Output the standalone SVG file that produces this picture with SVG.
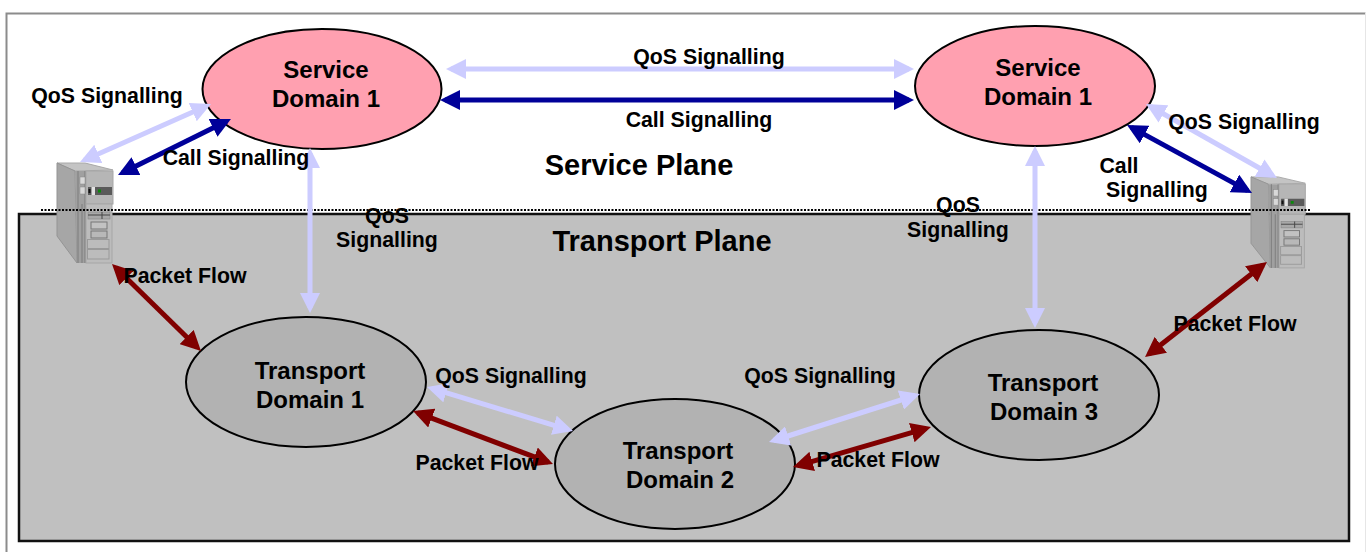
<svg xmlns="http://www.w3.org/2000/svg" width="1366" height="552" viewBox="0 0 1366 552">
<style>
text{font-family:"Liberation Sans",Arial,sans-serif;font-weight:bold;fill:#000;font-size:21.300px;text-anchor:middle}
.pl{font-size:29px}
.nl{font-size:24px}
.n{stroke:#000;stroke-width:2}
.s{fill:#ffa0b0}
.t{fill:#b2b2b2}
.q,.c,.p{fill:none;stroke-width:5}
.q{stroke:#ccccff;marker-start:url(#mq);marker-end:url(#mq)}
.c{stroke:#000099;marker-start:url(#mc);marker-end:url(#mc)}
.p{stroke:#800000;marker-start:url(#mp);marker-end:url(#mp)}
</style>
<defs>
<marker id="mq" markerUnits="userSpaceOnUse" markerWidth="20" markerHeight="20" viewBox="0 0 20 20" refX="15" refY="10" orient="auto-start-reverse"><path d="M0 0L20 10L0 20Z" fill="#ccccff"/></marker>
<marker id="mc" markerUnits="userSpaceOnUse" markerWidth="20" markerHeight="20" viewBox="0 0 20 20" refX="15" refY="10" orient="auto-start-reverse"><path d="M0 0L20 10L0 20Z" fill="#000099"/></marker>
<marker id="mp" markerUnits="userSpaceOnUse" markerWidth="20" markerHeight="20" viewBox="0 0 20 20" refX="15" refY="10" orient="auto-start-reverse"><path d="M0 0L20 10L0 20Z" fill="#800000"/></marker>
<g id="srv">
<path d="M0 1L28 1L56 8L18 9Z" fill="#c4c4c4" stroke="#a8a8a8"/>
<path d="M0 1L18 9L20 101L0 74Z" fill="#a6a6a6" stroke="#949494"/>
<path d="M18 9H29V101H20Z" fill="#a0a0a0"/>
<path d="M21 9V101M25 42V101M28 9V101" stroke="#7c7c7c" fill="none"/>
<rect x="29" y="9" width="27" height="33" fill="#b6b6b6" stroke="#a6a6a6"/>
<rect x="29" y="42" width="26" height="59" fill="#bcbcbc" stroke="#a6a6a6"/>
<rect x="23" y="15" width="5" height="7" fill="#d8d8d8" stroke="#888" stroke-width=".5"/>
<rect x="23" y="25" width="5" height="7" fill="#d8d8d8" stroke="#888" stroke-width=".5"/>
<rect x="31" y="25" width="24" height="8" fill="#5a5a5a"/>
<rect x="31.500" y="27" width="2" height="4" fill="#111"/>
<rect x="34.500" y="25" width="3.500" height="8" fill="#e2e2e2"/>
<rect x="41" y="27.500" width="3" height="3" fill="#0a8a0a"/>
<rect x="31" y="50" width="22" height="7" fill="#a8a8a8" stroke="#8a8a8a" stroke-width=".7"/>
<path d="M31 53H53M45 50V57" stroke="#444" fill="none"/>
<rect x="34" y="60" width="16" height="7" fill="#c2c2c2" stroke="#777"/>
<rect x="34" y="69" width="16" height="7" fill="#b8b8b8" stroke="#777"/>
<rect x="30.500" y="77.500" width="21.500" height="9" fill="#bcbcbc" stroke="#9a9a9a"/>
<rect x="30.500" y="87.500" width="21.500" height="9.500" fill="#bcbcbc" stroke="#9a9a9a"/>
</g>
</defs>
<path id="frame" d="M6.500 552V13.500H1365.500" fill="none" stroke="#8c8c8c" stroke-width="2"/>
<path id="frame-right" d="M1365.500 13V552" stroke="#e6e6e6" stroke-width="1" fill="none"/>
<rect id="transport-plane" x="19" y="214" width="1330" height="327" fill="#c0c0c0" stroke="#111" stroke-width="2.500"/>
<g id="server-left"><use href="#srv" transform="translate(57 162)"/></g>
<g id="server-right"><use href="#srv" transform="translate(1251 176) scale(.97 .91)"/></g>
<path id="plane-divider" d="M41 210H1310" stroke="#000" stroke-width="2" stroke-dasharray="2 1.500" fill="none"/>
<g id="service-domain-a"><ellipse class="n s" cx="322" cy="89" rx="119.500" ry="60"/><text class="nl" x="326" y="78">Service</text><text class="nl" x="326" y="107">Domain 1</text></g>
<g id="service-domain-b"><ellipse class="n s" cx="1035" cy="86" rx="120" ry="60"/><text class="nl" x="1038" y="76">Service</text><text class="nl" x="1038" y="105">Domain 1</text></g>
<g id="transport-domain-1"><ellipse class="n t" cx="306" cy="382" rx="120" ry="65"/><text class="nl" x="310" y="379">Transport</text><text class="nl" x="310" y="408">Domain 1</text></g>
<g id="transport-domain-2"><ellipse class="n t" cx="675" cy="464" rx="120" ry="65"/><text class="nl" x="678" y="459">Transport</text><text class="nl" x="680" y="488">Domain 2</text></g>
<g id="transport-domain-3"><ellipse class="n t" cx="1039" cy="395" rx="120" ry="65"/><text class="nl" x="1043" y="391">Transport</text><text class="nl" x="1044" y="420">Domain 3</text></g>
<g id="connectors">
<path class="q" d="M84.600 160L206.400 106"/>
<path class="c" d="M122.500 172.800L226.500 121.200"/>
<path class="q" d="M310 153V308"/>
<path class="q" d="M451 69H909"/>
<path class="c" d="M445 100H909"/>
<path class="q" d="M1150.400 106.500L1272.600 175.500"/>
<path class="c" d="M1131.400 127.400L1247.600 190.600"/>
<path class="q" d="M1035 151V323"/>
<path class="p" d="M115.600 267.500L197.400 347.500"/>
<path class="p" d="M1263 265L1149 354"/>
<path class="q" d="M431.800 388.400L568.200 429.600"/>
<path class="p" d="M417.700 412.800L548.300 462.200"/>
<path class="q" d="M915.200 395.500L773.800 440.500"/>
<path class="p" d="M797.800 465.600L926.200 428.400"/>
</g>
<g id="labels">
<text x="107" y="103">QoS Signalling</text>
<text x="709" y="64">QoS Signalling</text>
<text x="699" y="127">Call Signalling</text>
<text x="236" y="165">Call Signalling</text>
<text x="1244" y="129">QoS Signalling</text>
<text x="1119" y="173">Call</text>
<text x="1157" y="197">Signalling</text>
<text x="387" y="223">QoS</text>
<text x="387" y="247">Signalling</text>
<text x="958" y="212">QoS</text>
<text x="958" y="237">Signalling</text>
<text x="185" y="283">Packet Flow</text>
<text x="1235" y="331">Packet Flow</text>
<text x="511" y="383">QoS Signalling</text>
<text x="820" y="383">QoS Signalling</text>
<text x="477" y="470">Packet Flow</text>
<text x="878" y="467">Packet Flow</text>
<text class="pl" x="639" y="175">Service Plane</text>
<text class="pl" x="662" y="251">Transport Plane</text>
</g>
</svg>
